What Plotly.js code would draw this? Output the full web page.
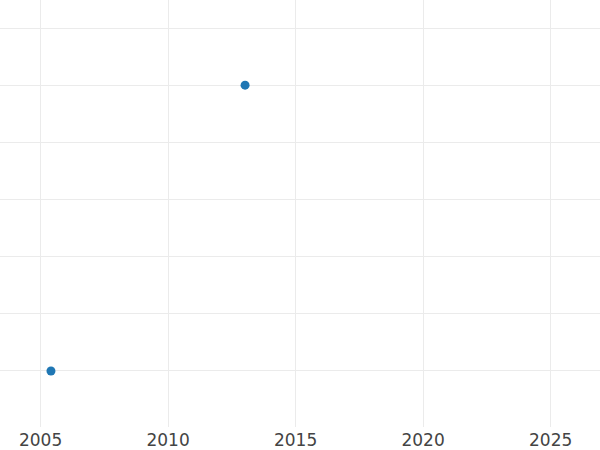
<!DOCTYPE html>
<html>
<head>
<meta charset="utf-8">
<script src="https://cdn.plot.ly/plotly-3.0.1.min.js"></script>
<style>html,body{margin:0;padding:0;background:#fff;}#chart{width:600px;height:450px;}</style>
</head>
<body>
<div id="chart"></div>
<script>
const dates = ['2005-05-30', '2013-01-08'];
const values = [1, 6];
const xRange = ['2003-05-31', '2026-12-09'];
const yRange = [0.02, 7.49];
const tickVals = ['2005-01-01', '2010-01-01', '2015-01-01', '2020-01-01', '2025-01-01'];
const tickText = ['2005', '2010', '2015', '2020', '2025'];

Plotly.newPlot('chart', [{
  type: 'scatter',
  mode: 'markers',
  x: dates,
  y: values,
  marker: {color: '#1f77b4', size: 9},
  showlegend: false
}], {
  width: 600, height: 450,
  margin: {l: 0, r: 0, t: 0, b: 23, pad: 0},
  paper_bgcolor: '#fff', plot_bgcolor: '#fff',
  font: {family: 'DejaVu Sans', color: '#444'},
  xaxis: {
    type: 'date', range: xRange,
    tickmode: 'array', tickvals: tickVals, ticktext: tickText,
    showgrid: true, gridcolor: '#ebebeb', gridwidth: 1,
    zeroline: false, showline: false, ticks: '',
    ticklabelstandoff: 1,
    tickfont: {size: 17, color: '#444'}
  },
  yaxis: {
    range: yRange, dtick: 1, tick0: 0,
    showgrid: true, gridcolor: '#ebebeb', gridwidth: 1,
    zeroline: false, showline: false, showticklabels: false, ticks: ''
  }
}, {displayModeBar: false, staticPlot: true});
</script>
</body>
</html>
